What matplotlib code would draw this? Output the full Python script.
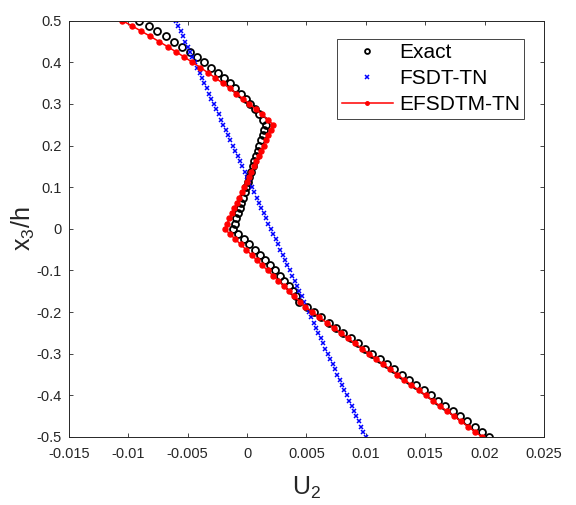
import numpy as np
import matplotlib.pyplot as plt

plt.rcParams['font.family'] = ['Liberation Sans', 'DejaVu Sans']
plt.rcParams['axes.unicode_minus'] = False
plt.rcParams['mathtext.default'] = 'regular'

# through-thickness coordinate, top surface to bottom surface
x3_h = np.linspace(0.5, -0.5, 81)

u2_exact = [
    -0.00907, -0.00830, -0.00755, -0.00683, -0.00614, -0.00546, -0.00482, -0.00420,
    -0.00360, -0.00303, -0.00248, -0.00196, -0.00147, -0.00100, -0.00055, -0.00013,
    0.00027, 0.00064, 0.00098, 0.00130, 0.00160,
    0.00146, 0.00132, 0.00118, 0.00104, 0.00090, 0.00076, 0.00062, 0.00048,
    0.00034, 0.00020, 0.00006, -0.00008, -0.00022, -0.00036, -0.00050, -0.00064,
    -0.00078, -0.00092, -0.00106, -0.00120,
    -0.00074, -0.00028, 0.00018, 0.00064, 0.00110, 0.00153, 0.00193, 0.00234,
    0.00275, 0.00313, 0.00351, 0.00386, 0.00413, 0.00440,
    0.00502, 0.00563, 0.00625, 0.00686, 0.00748, 0.00809, 0.00871, 0.00932,
    0.00994, 0.01055, 0.01117, 0.01178, 0.01240, 0.01301, 0.01363, 0.01424,
    0.01486, 0.01547, 0.01609, 0.01670, 0.01732, 0.01793, 0.01855, 0.01916,
    0.01978, 0.02039,
]

u2_fsdt = [
    -0.0060, -0.0058, -0.0056, -0.0054, -0.0052, -0.0050, -0.0048, -0.0046,
    -0.0044, -0.0042, -0.0040, -0.0038, -0.0036, -0.0034, -0.0032, -0.0030,
    -0.0028, -0.0026, -0.0024, -0.0022, -0.0020, -0.0018, -0.0016, -0.0014,
    -0.0012, -0.0010, -0.0008, -0.0006, -0.0004, -0.0002, 0.0000, 0.0002,
    0.0004, 0.0006, 0.0008, 0.0010, 0.0012, 0.0014, 0.0016, 0.0018,
    0.0020, 0.0022, 0.0024, 0.0026, 0.0028, 0.0030, 0.0032, 0.0034,
    0.0036, 0.0038, 0.0040, 0.0042, 0.0044, 0.0046, 0.0048, 0.0050,
    0.0052, 0.0054, 0.0056, 0.0058, 0.0060, 0.0062, 0.0064, 0.0066,
    0.0068, 0.0070, 0.0072, 0.0074, 0.0076, 0.0078, 0.0080, 0.0082,
    0.0084, 0.0086, 0.0088, 0.0090, 0.0092, 0.0094, 0.0096, 0.0098,
    0.0100,
]

u2_efsdtm = [
    -0.01050, -0.00970, -0.00892, -0.00816, -0.00742, -0.00669, -0.00598, -0.00528,
    -0.00460, -0.00394, -0.00330, -0.00267, -0.00206, -0.00147, -0.00090, -0.00034,
    0.00020, 0.00073, 0.00124, 0.00173, 0.00220,
    0.00200, 0.00179, 0.00159, 0.00138, 0.00118, 0.00097, 0.00077, 0.00056,
    0.00036, 0.00015, -0.00005, -0.00026, -0.00047, -0.00067, -0.00088, -0.00108,
    -0.00128, -0.00149, -0.00169, -0.00190,
    -0.00145, -0.00099, -0.00054, -0.00009, 0.00037, 0.00082, 0.00127, 0.00173,
    0.00218, 0.00263, 0.00309, 0.00354, 0.00399, 0.00445, 0.00490,
    0.00550, 0.00609, 0.00669, 0.00728, 0.00788, 0.00848, 0.00907, 0.00967,
    0.01026, 0.01086, 0.01146, 0.01205, 0.01265, 0.01324, 0.01384, 0.01444,
    0.01503, 0.01563, 0.01622, 0.01682, 0.01742, 0.01801, 0.01861, 0.01920,
    0.01980,
]

xticks = [-0.015, -0.01, -0.005, 0, 0.005, 0.01, 0.015, 0.02, 0.025]
xticklabels = ['-0.015', '-0.01', '-0.005', '0', '0.005', '0.01', '0.015', '0.02', '0.025']
yticks = [-0.5, -0.4, -0.3, -0.2, -0.1, 0, 0.1, 0.2, 0.3, 0.4, 0.5]
yticklabels = ['-0.5', '-0.4', '-0.3', '-0.2', '-0.1', '0', '0.1', '0.2', '0.3', '0.4', '0.5']

axcol = '#262626'

fig = plt.figure(figsize=(5.76, 5.05), dpi=100)
ax = fig.add_axes([0.1198, 0.1347, 0.8246, 0.8243])

ax.plot(u2_exact, x3_h, 'o', color='black', mfc='none', ms=5, mew=1.3, label='Exact')
ax.plot(u2_fsdt, x3_h, 'x', color='blue', ms=3.5, mew=1.1, label='FSDT-TN')
ax.plot(u2_efsdtm, x3_h, '-', color='red', lw=1.1, marker='o', ms=3.6,
        mec='red', mfc='red', label='EFSDTM-TN')

ax.set_xlim(-0.015, 0.025)
ax.set_ylim(-0.5, 0.5)
ax.set_xticks(xticks)
ax.set_xticklabels(xticklabels)
ax.set_yticks(yticks)
ax.set_yticklabels(yticklabels)
ax.tick_params(direction='in', length=3, width=0.6, colors=axcol, labelsize=10.5,
               top=True, right=True)
ax.tick_params(axis='x', pad=7)
ax.tick_params(axis='y', pad=5)
for s in ax.spines.values():
    s.set_color(axcol)
    s.set_linewidth(0.7)

ax.set_xlabel('U$_2$', fontsize=18, color=axcol, labelpad=10)
ax.set_ylabel('x$_3$/h', fontsize=18, color=axcol, labelpad=0)

leg = ax.legend(loc='upper right', bbox_to_anchor=(0.958, 0.956), borderaxespad=0,
                fontsize=15, handlelength=2.45, handletextpad=0.3, borderpad=0.2,
                labelspacing=0.34, fancybox=False, framealpha=1, edgecolor=axcol,
                markerscale=0.7)
leg.get_frame().set_linewidth(0.6)

plt.savefig('out.png')
